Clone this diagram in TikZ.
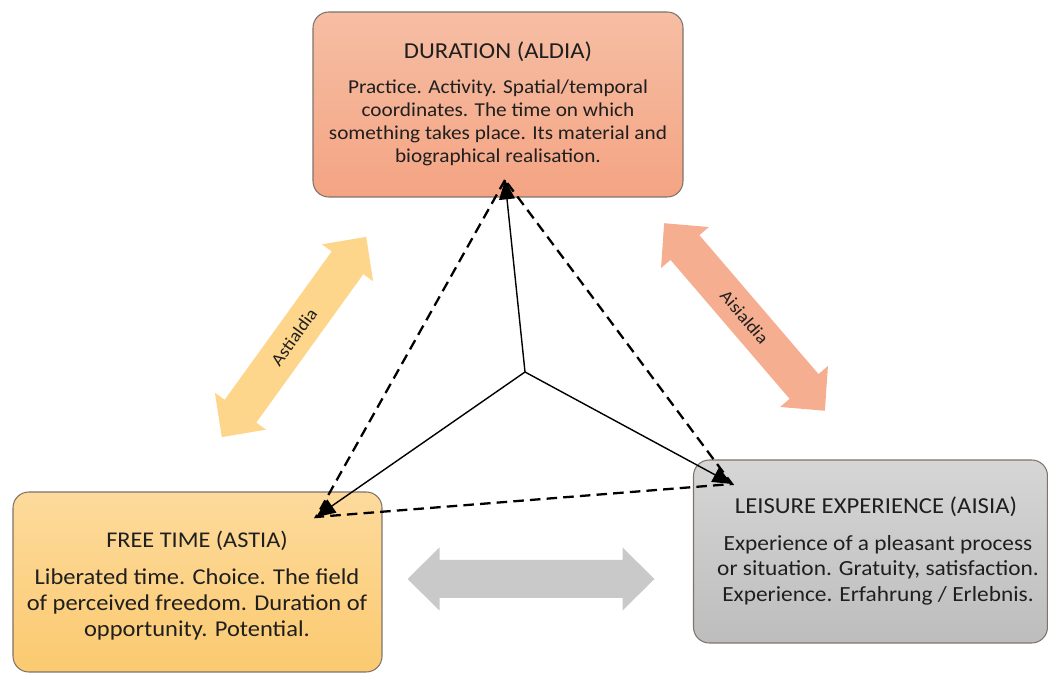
\documentclass[tikz,border=0pt]{standalone}
\usepackage{fontspec}
\setmainfont{Carlito}[FakeStretch=1.08]
\usetikzlibrary{arrows.meta}

\definecolor{durtop}{HTML}{F6BEA4}
\definecolor{durbot}{HTML}{F4A483}
\definecolor{freetop}{HTML}{FDDA9C}
\definecolor{freebot}{HTML}{FBCA70}
\definecolor{leistop}{HTML}{D6D6D6}
\definecolor{leisbot}{HTML}{BDBDBD}
\definecolor{boxline}{HTML}{7F736C}
\definecolor{txt}{HTML}{1F1F1F}

\begin{document}
\begin{tikzpicture}[
  box/.style={draw=boxline,line width=0.6pt,rounded corners=9pt,inner sep=0pt},
  heading/.style={text=txt,inner sep=0pt},
  body/.style={text=txt,align=center,inner sep=0pt},
  tip/.style={-{Triangle[length=11pt,width=9pt]}},
]
\useasboundingbox (0,0) rectangle (20.96,13.46);

% the three boxes
\node[box,top color=durtop,bottom color=durbot,minimum width=7.4cm,minimum height=3.7cm]
  (dur) at (9.96,11.37) {};
\node[box,top color=freetop,bottom color=freebot,minimum width=7.38cm,minimum height=3.6cm]
  (free) at (3.95,1.82) {};
\node[box,top color=leistop,bottom color=leisbot,minimum width=7.08cm,minimum height=3.66cm]
  (leis) at (17.41,2.43) {};

% titles and texts of the boxes
\node[heading,font=\fontsize{13}{15}\selectfont] (durtitle) at (9.96,12.42) {DURATION (ALDIA)};
\node[body,font=\fontsize{11.2}{13.1}\selectfont] (durtext) at (9.96,11.01)
  {Practice. Activity. Spatial/temporal\\ coordinates. The time on which\\
   something takes place. Its material and\\ biographical realisation.};
\node[heading,font=\fontsize{12.8}{15}\selectfont] (freetitle) at (3.94,2.64) {FREE TIME (ASTIA)};
\node[body,font=\fontsize{12.9}{14.8}\selectfont] (freetext) at (3.94,1.38)
  {Liberated time. Choice. The field\\ of perceived freedom. Duration of\\ opportunity. Potential.};
\node[heading,font=\fontsize{13}{15}\selectfont] (leistitle) at (17.52,3.32) {LEISURE EXPERIENCE (AISIA)};
\node[body,font=\fontsize{12.3}{14.5}\selectfont] (leistext) at (17.56,2.06)
  {Experience of a pleasant process\\ or situation. Gratuity, satisfaction.\\ Experience. Erfahrung / Erlebnis.};

% the wide double arrows between the boxes
\foreach \cx/\cy/\ang/\w/\col/\lbl in {5.88/6.72/54.2/0.39/FDD68C/Astialdia,
    14.89/7.12/-49.4/0.38/F5AE8F/Aisialdia, 10.62/1.88/0/0.38/C9C9C9/{}}
{
  \definecolor{arrowfill}{HTML}{\col}
  \begin{scope}[shift={(\cx,\cy)},rotate=\ang]
    \fill[arrowfill] (-2.47,0) -- (-1.83,0.63) -- (-1.83,\w) -- (1.83,\w) -- (1.83,0.63)
      -- (2.47,0) -- (1.83,-0.63) -- (1.83,-\w) -- (-1.83,-\w) -- (-1.83,-0.63) -- cycle;
    \node[rotate=\ang,text=txt,font=\fontsize{10}{12}\selectfont] at (0,0) {\lbl};
  \end{scope}
}

% the corners and centre of the triangle
\coordinate (top) at (10.10,9.86);
\coordinate (mid) at (10.50,6.02);
\coordinate (left) at (6.32,3.12);
\coordinate (right) at (14.64,3.78);

% dashed triangle
\draw[line width=1.3pt,dash pattern=on 6pt off 3.5pt] (top) -- (left) -- (right) -- cycle;
% solid arrows from the centre
\draw[tip,line width=0.8pt] (mid) -- (top);
\draw[tip,line width=0.8pt] (mid) -- (left);
\draw[tip,line width=0.8pt] (mid) -- (right);
\end{tikzpicture}
\end{document}
